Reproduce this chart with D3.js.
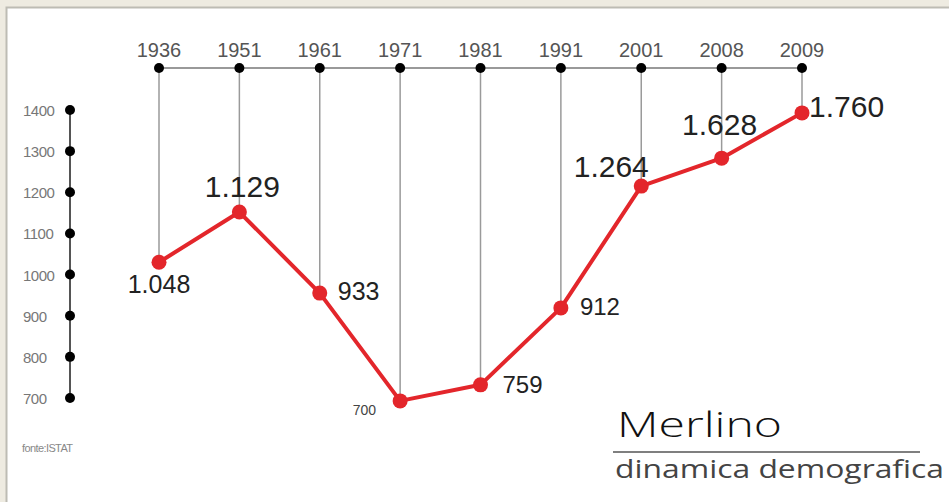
<!DOCTYPE html>
<html>
<head>
<meta charset="utf-8">
<script src="https://cdn.jsdelivr.net/npm/d3@7"></script>
<style>
  html, body { margin: 0; padding: 0; background: #eeebe1; }
  svg { display: block; }
  text { font-family: "Liberation Sans", Arial, sans-serif; }
</style>
</head>
<body>
<div id="chart"></div>
<script>
// census years (top axis)
const years = ["1936", "1951", "1961", "1971", "1981", "1991", "2001", "2008", "2009"];
// population as printed on the chart
const popLabels = ["1.048", "1.129", "933", "700", "759", "912", "1.264", "1.628", "1.760"];
// population as plotted (read from the point positions)
const popPlotted = [1030, 1152, 955, 693, 732, 919, 1215, 1283, 1393];
// left axis ticks
const yTicks = [700, 800, 900, 1000, 1100, 1200, 1300, 1400];

const width = 949, height = 502;

const svg = d3.select("#chart").append("svg")
    .attr("width", width)
    .attr("height", height);

// white panel with grey border
svg.append("rect")
    .attr("x", 6.5).attr("y", 7.5)
    .attr("width", width + 10).attr("height", height + 10)
    .attr("fill", "#fff")
    .attr("stroke", "#bdbcb4")
    .attr("stroke-width", 2);

// scales
const x = d3.scalePoint()
    .domain(years)
    .range([159, 802]);

const y = d3.scaleLinear()
    .domain([700, 1400])
    .range([398, 110]);

const axisY = 68;

// top axis line
svg.append("line")
    .attr("x1", x(years[0])).attr("x2", x(years[years.length - 1]))
    .attr("y1", axisY).attr("y2", axisY)
    .attr("stroke", "#999").attr("stroke-width", 2);

let data = years.map((d, i) => ({year: d, value: popPlotted[i], label: popLabels[i]}));

// drop lines from top axis to each point
svg.selectAll(".drop")
    .data(data)
    .enter().append("line")
    .attr("class", "drop")
    .attr("x1", d => x(d.year)).attr("x2", d => x(d.year))
    .attr("y1", axisY).attr("y2", d => y(d.value))
    .attr("stroke", "#9a9a9a").attr("stroke-width", 1.5);

svg.selectAll(".yeardot")
    .data(data)
    .enter().append("circle")
    .attr("class", "yeardot")
    .attr("cx", d => x(d.year)).attr("cy", axisY)
    .attr("r", 5).attr("fill", "#000");

svg.selectAll(".yearlabel")
    .data(data)
    .enter().append("text")
    .attr("class", "yearlabel")
    .attr("x", d => x(d.year)).attr("y", 57)
    .attr("text-anchor", "middle")
    .style("font-size", "20px")
    .style("fill", "#555")
    .text(d => d.year);

// left axis
const axisX = 70;
svg.append("line")
    .attr("x1", axisX).attr("x2", axisX)
    .attr("y1", y(1400)).attr("y2", y(700))
    .attr("stroke", "#555").attr("stroke-width", 2);

svg.selectAll(".ytick")
    .data(yTicks)
    .enter().append("circle")
    .attr("class", "ytick")
    .attr("cx", axisX).attr("cy", d => y(d))
    .attr("r", 5).attr("fill", "#000");

svg.selectAll(".yticklabel")
    .data(yTicks)
    .enter().append("text")
    .attr("class", "yticklabel")
    .attr("x", 23).attr("y", d => y(d) + 6)
    .style("font-size", "15px")
    .style("letter-spacing", "-0.5px")
    .style("fill", "#777")
    .text(d => d);

svg.append("text")
    .attr("x", 22).attr("y", 452)
    .style("font-size", "11px")
    .style("letter-spacing", "-0.6px")
    .style("fill", "#888")
    .text("fonte:ISTAT");

// red line
const line = d3.line()
    .x(d => x(d.year))
    .y(d => y(d.value));

svg.append("path")
    .datum(data)
    .attr("d", line)
    .attr("fill", "none")
    .attr("stroke", "#e3262b")
    .attr("stroke-width", 4)
    .attr("stroke-linejoin", "round");

svg.selectAll(".point")
    .data(data)
    .enter().append("circle")
    .attr("class", "point")
    .attr("cx", d => x(d.year)).attr("cy", d => y(d.value))
    .attr("r", 7.5).attr("fill", "#e3262b");

// value labels: placement per point (offsets relative to the point)
const labelStyle = [
    {dx: 0, dy: 31, size: 25, anchor: "middle"},
    {dx: 3, dy: -15, size: 30, anchor: "middle"},
    {dx: 18, dy: 7, size: 25, anchor: "start"},
    {dx: -24, dy: 14, size: 14, anchor: "end"},
    {dx: 22, dy: 8, size: 24, anchor: "start"},
    {dx: 19, dy: 7, size: 24, anchor: "start"},
    {dx: -30, dy: -9, size: 30, anchor: "middle"},
    {dx: -2, dy: -23, size: 30, anchor: "middle"},
    {dx: 7, dy: 4, size: 30, anchor: "start"}
];

svg.selectAll(".vlabel")
    .data(data)
    .enter().append("text")
    .attr("class", "vlabel")
    .attr("x", (d, i) => x(d.year) + labelStyle[i].dx)
    .attr("y", (d, i) => y(d.value) + labelStyle[i].dy)
    .attr("text-anchor", (d, i) => labelStyle[i].anchor)
    .style("font-size", (d, i) => labelStyle[i].size + "px")
    .style("fill", (d, i) => i === 3 ? "#444" : "#222")
    .text(d => d.label);

// title block
svg.append("text")
    .attr("x", 617).attr("y", 437)
    .attr("textLength", 165)
    .attr("lengthAdjust", "spacingAndGlyphs")
    .style("font-family", "'Open Sans', sans-serif")
    .style("font-weight", 300)
    .style("font-size", "35px")
    .style("fill", "#111")
    .text("Merlino");

svg.append("line")
    .attr("x1", 613).attr("x2", 920)
    .attr("y1", 452).attr("y2", 452)
    .attr("stroke", "#555").attr("stroke-width", 1.5);

svg.append("text")
    .attr("x", 615).attr("y", 478)
    .attr("textLength", 329)
    .attr("lengthAdjust", "spacingAndGlyphs")
    .style("font-family", "'Open Sans', sans-serif")
    .style("font-size", "25px")
    .style("fill", "#444")
    .text("dinamica demografica");
</script>
</body>
</html>
